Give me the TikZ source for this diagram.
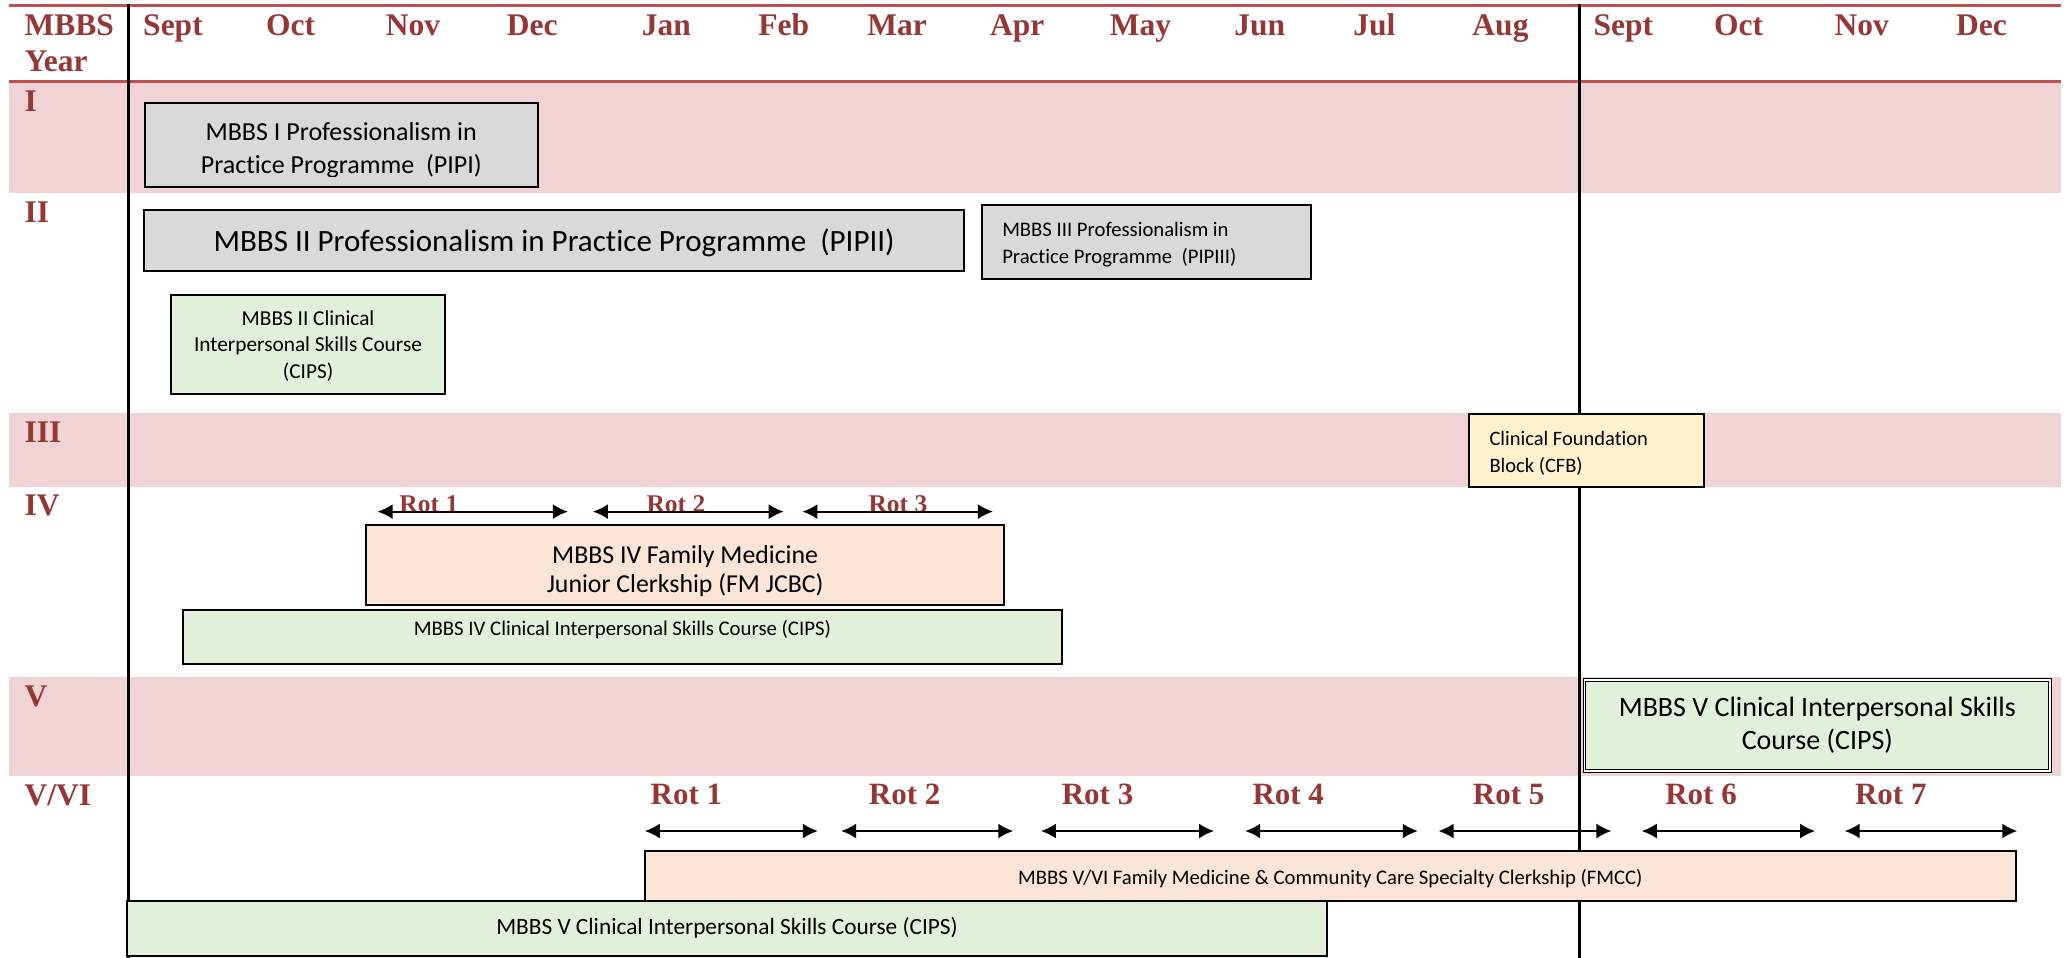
\documentclass[tikz,border=0pt]{standalone}
\usepackage{fontspec}
\setmainfont{Carlito}[Ligatures={NoCommon}]
\newfontfamily\hdrfont{Liberation Serif}
\usetikzlibrary{arrows.meta,fit}
\definecolor{hdrred}{HTML}{953735}
\definecolor{linered}{HTML}{C0504D}
\definecolor{bandpink}{HTML}{F0D3D4}
\definecolor{boxgrey}{HTML}{D9D9D9}
\definecolor{boxgreen}{HTML}{E2EFDA}
\definecolor{boxpeach}{HTML}{FBE5D6}
\definecolor{boxyellow}{HTML}{FFF2CC}
\newcommand{\mlt}[2]{\begin{tabular}[t]{@{}#1@{}}#2\end{tabular}}
\tikzset{
  hdr/.style={font=\hdrfont\bfseries\fontsize{31.5}{35.7}\selectfont, text=hdrred, inner sep=0pt},
  monthlbl/.style={hdr, anchor=base},
  yearlbl/.style={hdr, anchor=base west},
  rotsmall/.style={font=\hdrfont\bfseries\fontsize{25.5}{30}\selectfont, text=hdrred, inner sep=0pt, anchor=base},
  rotbig/.style={font=\hdrfont\bfseries\fontsize{31}{36}\selectfont, text=hdrred, inner sep=0pt, anchor=base},
  boxbase/.style={draw=black, line width=2pt, inner sep=0pt},
  greybox/.style={boxbase, fill=boxgrey},
  greenbox/.style={boxbase, fill=boxgreen},
  peachbox/.style={boxbase, fill=boxpeach},
  yellowbox/.style={boxbase, fill=boxyellow},
  txt/.style={inner sep=0pt, text=black},
  rotarrow/.style={{Latex[length=15pt,width=15pt]}-{Latex[length=15pt,width=15pt]}, line width=2pt},
  divider/.style={line width=3pt, black},
  redrule/.style={line width=3pt, linered}
}
\begin{document}
\begin{tikzpicture}[x=1.3176pt, y=-1.3176pt]
\useasboundingbox (0,0) rectangle (1568,727);
% bands
\fill[bandpink] (7,63.2) rectangle (1564,146.2);
\fill[bandpink] (7,313.7) rectangle (1564,369.9);
\fill[bandpink] (7,514) rectangle (1564,588.8);
% header rules
\draw[redrule] (7,3.8) -- (1564,3.8);
\draw[redrule] (7,61.5) -- (1564,61.5);
% dividers
\coordinate (dlt) at (97.2,3);
\coordinate (dlb) at (97.2,727);
\coordinate (drt) at (1198.4,3);
\coordinate (drb) at (1198.4,727);
\draw[divider] (dlt) -- (dlb);
\draw[divider] (drt) -- (drb);
% header labels
\node[hdr, anchor=base west] (yearhdr) at (18.6,27.3) {\mlt{l}{MBBS\\Year}};
\foreach \xx/\mm [count=\i] in {131.3/Sept, 220.6/Oct, 313.5/Nov, 404/Dec, 505.7/Jan, 594.8/Feb, 680.9/Mar, 772/Apr, 865.5/May, 956/Jun, 1043/Jul, 1138.8/Aug, 1232/Sept, 1319.5/Oct, 1413/Nov, 1503.8/Dec}
  \node[monthlbl] (m\i) at (\xx,27.3) {\mm};
% year labels
\node[yearlbl] (y1) at (18.6,84.8) {I};
\node[yearlbl] (y2) at (18.6,169) {II};
\node[yearlbl] (y3) at (18.6,336) {III};
\node[yearlbl] (y4) at (18.6,391) {IV};
\node[yearlbl] (y5) at (18.6,536) {V};
\node[yearlbl] (y56) at (18.6,611) {V/VI};
% Year I
\node[greybox, fit={(110,78) (408,142)}] (pipi) {};
\begin{scope}
\clip (110,78) rectangle (408,134);
\node[txt, anchor=base, font=\fontsize{26}{33.3}\selectfont] (pipiT) at (259,106.3) {\mlt{c}{MBBS I Professionalism in\\Practice Programme\ \ (PIPI)}};
\end{scope}
% Year II
\node[greybox, fit={(109,159.4) (732,205.4)}] (pipii) {};
\node[txt, anchor=base, font=\fontsize{31}{37}\selectfont] (pipiiT) at (420.5,191) {MBBS II Professionalism in Practice Programme\ \ (PIPII)};
\node[greybox, fit={(745,155.6) (995,212)}] (pipiii) {};
\node[txt, anchor=base west, font=\fontsize{20.7}{26.7}\selectfont] (pipiiiT) at (760.5,179.6) {\mlt{l}{MBBS III Professionalism in\\Practice Programme\ \ (PIPIII)}};
\node[greenbox, fit={(129.8,223.9) (337.8,299.3)}] (cipsii) {};
\node[txt, anchor=base, font=\fontsize{21.3}{26.2}\selectfont] (cipsiiT) at (233.8,247.2) {\mlt{c}{MBBS II Clinical\\Interpersonal Skills Course\\(CIPS)}};
% Year III
\node[yellowbox, fit={(1114.8,314.2) (1293,369.9)}] (cfb) {};
\node[txt, anchor=base west, font=\fontsize{20.5}{26.7}\selectfont] (cfbT) at (1130.3,338.2) {\mlt{l}{Clinical Foundation\\Block (CFB)}};
% Year IV
\begin{scope}
\clip (250,360) rectangle (800,387.6);
\node[rotsmall] (r4l1) at (325.5,388.6) {Rot 1};
\node[rotsmall] (r4l2) at (513,388.6) {Rot 2};
\node[rotsmall] (r4l3) at (681.5,388.6) {Rot 3};
\end{scope}
\coordinate (r4a1) at (286.6,388.3); \coordinate (r4b1) at (431,388.3);
\coordinate (r4a2) at (450,388.3);   \coordinate (r4b2) at (594.8,388.3);
\coordinate (r4a3) at (609,388.3);   \coordinate (r4b3) at (753.6,388.3);
\draw[rotarrow] (r4a1) -- (r4b1);
\draw[rotarrow] (r4a2) -- (r4b2);
\draw[rotarrow] (r4a3) -- (r4b3);
\node[peachbox, fit={(278,398.5) (762,459)}] (fmjc) {};
\begin{scope}
\clip (278,398.5) rectangle (762,453);
\node[txt, anchor=base, font=\fontsize{25.8}{28.5}\selectfont] (fmjcT) at (520,428) {\mlt{c}{MBBS IV Family Medicine\\Junior Clerkship (FM JCBC)}};
\end{scope}
\node[greenbox, fit={(139,463) (805.8,504)}] (cipsiv) {};
\node[txt, anchor=base, font=\fontsize{20.8}{25}\selectfont] (cipsivT) at (472.4,482.5) {MBBS IV Clinical Interpersonal Skills Course (CIPS)};
% Year V
\node[greenbox, line width=1.1pt, double, double distance=1.6pt, fit={(1202.5,516.3) (1556,585)}] (cipsv) {};
\node[txt, anchor=base, font=\fontsize{28}{33}\selectfont] (cipsvT) at (1379.3,544) {\mlt{c}{MBBS V Clinical Interpersonal Skills\\Course (CIPS)}};
% Year V/VI
\foreach \xx/\ll [count=\i] in {521/Rot 1, 686.6/Rot 2, 833/Rot 3, 977.7/Rot 4, 1145/Rot 5, 1291/Rot 6, 1435/Rot 7}
  \node[rotbig] (r5l\i) at (\xx,610.5) {\ll};
\foreach \xa/\xb [count=\i] in {489.4/620.7, 638.4/769, 790/921.4, 945/1076, 1091.8/1223, 1246/1377.6, 1400/1531}{
  \coordinate (r5a\i) at (\xa,630.7);
  \coordinate (r5b\i) at (\xb,630.7);
  \draw[rotarrow] (r5a\i) -- (r5b\i);
}
\node[peachbox, fit={(489.4,645.6) (1530,684)}] (fmcc) {};
\node[txt, anchor=base, font=\fontsize{20.7}{25}\selectfont] (fmccT) at (1009.7,671) {MBBS V/VI Family Medicine \& Community Care Specialty Clerkship (FMCC)};
\node[greenbox, fit={(96.6,684) (1007,725.6)}] (cipsvb) {};
\node[txt, anchor=base, font=\fontsize{23.3}{28}\selectfont] (cipsvbT) at (551.8,708.9) {MBBS V Clinical Interpersonal Skills Course (CIPS)};
\end{tikzpicture}
\end{document}
